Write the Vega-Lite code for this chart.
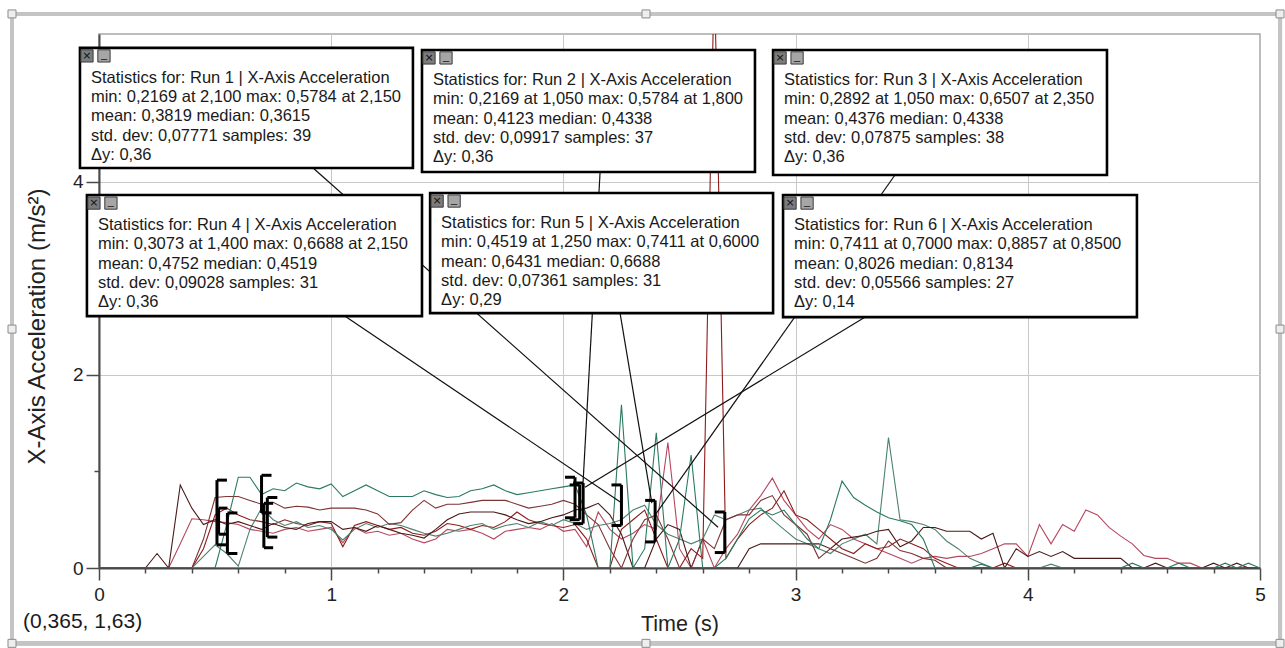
{
  "$schema": "https://vega.github.io/schema/vega-lite/v6.json",
  "width": 1161,
  "height": 534,
  "autosize": {"type": "none"},
  "padding": {"left": 99, "top": 34, "right": 25, "bottom": 80},
  "background": "white",
  "config": {
    "font": "Liberation Sans",
    "view": {"stroke": "#a8a8a8", "strokeWidth": 1.5}
  },
  "datasets": {
    "runs": [
      {"run":"Run 1","t":0,"a":0},{"run":"Run 1","t":0.3,"a":0},{"run":"Run 1","t":0.35,"a":0.25},{"run":"Run 1","t":0.4,"a":0.51},{"run":"Run 1","t":0.45,"a":0.5},{"run":"Run 1","t":0.5,"a":0.48},{"run":"Run 1","t":0.55,"a":0.47},{"run":"Run 1","t":0.6,"a":0.45},{"run":"Run 1","t":0.65,"a":0.4},{"run":"Run 1","t":0.7,"a":0.38},{"run":"Run 1","t":0.75,"a":0.36},{"run":"Run 1","t":0.8,"a":0.4},{"run":"Run 1","t":0.85,"a":0.42},{"run":"Run 1","t":0.9,"a":0.38},{"run":"Run 1","t":0.95,"a":0.4},{"run":"Run 1","t":1.0,"a":0.42},{"run":"Run 1","t":1.05,"a":0.26},{"run":"Run 1","t":1.1,"a":0.42},{"run":"Run 1","t":1.15,"a":0.36},{"run":"Run 1","t":1.2,"a":0.38},{"run":"Run 1","t":1.25,"a":0.34},{"run":"Run 1","t":1.3,"a":0.36},{"run":"Run 1","t":1.35,"a":0.3},{"run":"Run 1","t":1.4,"a":0.26},{"run":"Run 1","t":1.45,"a":0.3},{"run":"Run 1","t":1.5,"a":0.4},{"run":"Run 1","t":1.55,"a":0.38},{"run":"Run 1","t":1.6,"a":0.4},{"run":"Run 1","t":1.65,"a":0.36},{"run":"Run 1","t":1.7,"a":0.3},{"run":"Run 1","t":1.75,"a":0.38},{"run":"Run 1","t":1.8,"a":0.4},{"run":"Run 1","t":1.85,"a":0.42},{"run":"Run 1","t":1.9,"a":0.4},{"run":"Run 1","t":1.95,"a":0.46},{"run":"Run 1","t":2.0,"a":0.38},{"run":"Run 1","t":2.05,"a":0.4},{"run":"Run 1","t":2.1,"a":0.22},{"run":"Run 1","t":2.15,"a":0.58},{"run":"Run 1","t":2.2,"a":0.4},{"run":"Run 1","t":2.25,"a":0.3},{"run":"Run 1","t":2.3,"a":0.36},{"run":"Run 1","t":2.35,"a":0.45},{"run":"Run 1","t":2.4,"a":0.4},{"run":"Run 1","t":2.45,"a":1.3},{"run":"Run 1","t":2.5,"a":0.2},{"run":"Run 1","t":2.55,"a":0},{"run":"Run 1","t":2.6,"a":0.3},{"run":"Run 1","t":2.65,"a":0},{"run":"Run 1","t":2.7,"a":0.2},{"run":"Run 1","t":2.75,"a":0.35},{"run":"Run 1","t":2.8,"a":0.6},{"run":"Run 1","t":2.85,"a":0.75},{"run":"Run 1","t":2.9,"a":0.93},{"run":"Run 1","t":2.95,"a":0.7},{"run":"Run 1","t":3.0,"a":0.55},{"run":"Run 1","t":3.05,"a":0.4},{"run":"Run 1","t":3.1,"a":0.3},{"run":"Run 1","t":3.15,"a":0.45},{"run":"Run 1","t":3.2,"a":0.4},{"run":"Run 1","t":3.25,"a":0.3},{"run":"Run 1","t":3.3,"a":0.25},{"run":"Run 1","t":3.35,"a":0.2},{"run":"Run 1","t":3.4,"a":0.15},{"run":"Run 1","t":3.45,"a":0.1},{"run":"Run 1","t":3.5,"a":0.05},{"run":"Run 1","t":3.55,"a":0.1},{"run":"Run 1","t":3.6,"a":0.12},{"run":"Run 1","t":3.65,"a":0.1},{"run":"Run 1","t":3.7,"a":0.12},{"run":"Run 1","t":3.75,"a":0.12},{"run":"Run 1","t":3.8,"a":0.15},{"run":"Run 1","t":3.85,"a":0.2},{"run":"Run 1","t":3.9,"a":0.25},{"run":"Run 1","t":3.95,"a":0.25},{"run":"Run 1","t":4.0,"a":0.12},{"run":"Run 1","t":4.05,"a":0.45},{"run":"Run 1","t":4.1,"a":0.25},{"run":"Run 1","t":4.15,"a":0.45},{"run":"Run 1","t":4.2,"a":0.38},{"run":"Run 1","t":4.25,"a":0.6},{"run":"Run 1","t":4.3,"a":0.55},{"run":"Run 1","t":4.35,"a":0.42},{"run":"Run 1","t":4.4,"a":0.33},{"run":"Run 1","t":4.45,"a":0.25},{"run":"Run 1","t":4.5,"a":0.13},{"run":"Run 1","t":4.55,"a":0.1},{"run":"Run 1","t":4.6,"a":0.1},{"run":"Run 1","t":4.65,"a":0.05},{"run":"Run 1","t":4.7,"a":0.05},{"run":"Run 1","t":4.75,"a":0},{"run":"Run 1","t":5,"a":0},

      {"run":"Run 2","t":0,"a":0},{"run":"Run 2","t":0.4,"a":0},{"run":"Run 2","t":0.45,"a":0.2},{"run":"Run 2","t":0.5,"a":0.55},{"run":"Run 2","t":0.55,"a":0.62},{"run":"Run 2","t":0.6,"a":0.55},{"run":"Run 2","t":0.65,"a":0.5},{"run":"Run 2","t":0.7,"a":0.48},{"run":"Run 2","t":0.75,"a":0.45},{"run":"Run 2","t":0.8,"a":0.5},{"run":"Run 2","t":0.85,"a":0.46},{"run":"Run 2","t":0.9,"a":0.44},{"run":"Run 2","t":0.95,"a":0.48},{"run":"Run 2","t":1.0,"a":0.46},{"run":"Run 2","t":1.05,"a":0.22},{"run":"Run 2","t":1.1,"a":0.44},{"run":"Run 2","t":1.15,"a":0.48},{"run":"Run 2","t":1.2,"a":0.44},{"run":"Run 2","t":1.25,"a":0.4},{"run":"Run 2","t":1.3,"a":0.42},{"run":"Run 2","t":1.35,"a":0.36},{"run":"Run 2","t":1.4,"a":0.34},{"run":"Run 2","t":1.45,"a":0.38},{"run":"Run 2","t":1.5,"a":0.46},{"run":"Run 2","t":1.55,"a":0.44},{"run":"Run 2","t":1.6,"a":0.4},{"run":"Run 2","t":1.65,"a":0.44},{"run":"Run 2","t":1.7,"a":0.42},{"run":"Run 2","t":1.75,"a":0.48},{"run":"Run 2","t":1.8,"a":0.58},{"run":"Run 2","t":1.85,"a":0.5},{"run":"Run 2","t":1.9,"a":0.46},{"run":"Run 2","t":1.95,"a":0.44},{"run":"Run 2","t":2.0,"a":0.42},{"run":"Run 2","t":2.05,"a":0.45},{"run":"Run 2","t":2.1,"a":0.3},{"run":"Run 2","t":2.15,"a":0},{"run":"Run 2","t":2.2,"a":0},{"run":"Run 2","t":2.25,"a":0.4},{"run":"Run 2","t":2.3,"a":0.5},{"run":"Run 2","t":2.35,"a":0.6},{"run":"Run 2","t":2.4,"a":0.3},{"run":"Run 2","t":2.45,"a":0},{"run":"Run 2","t":2.5,"a":0},{"run":"Run 2","t":2.55,"a":0.2},{"run":"Run 2","t":2.6,"a":0.1},{"run":"Run 2","t":2.65,"a":6.2},{"run":"Run 2","t":2.7,"a":0.1},{"run":"Run 2","t":2.75,"a":0.3},{"run":"Run 2","t":2.8,"a":0.45},{"run":"Run 2","t":2.85,"a":0.55},{"run":"Run 2","t":2.9,"a":0.62},{"run":"Run 2","t":2.95,"a":0.8},{"run":"Run 2","t":3.0,"a":0.55},{"run":"Run 2","t":3.05,"a":0.5},{"run":"Run 2","t":3.1,"a":0.4},{"run":"Run 2","t":3.15,"a":0.3},{"run":"Run 2","t":3.2,"a":0.2},{"run":"Run 2","t":3.25,"a":0.15},{"run":"Run 2","t":3.3,"a":0.25},{"run":"Run 2","t":3.35,"a":0.2},{"run":"Run 2","t":3.4,"a":0.22},{"run":"Run 2","t":3.45,"a":0.3},{"run":"Run 2","t":3.5,"a":0.25},{"run":"Run 2","t":3.55,"a":0.2},{"run":"Run 2","t":3.6,"a":0.1},{"run":"Run 2","t":3.65,"a":0.05},{"run":"Run 2","t":3.7,"a":0},{"run":"Run 2","t":3.85,"a":0},{"run":"Run 2","t":3.9,"a":0.05},{"run":"Run 2","t":3.95,"a":0},{"run":"Run 2","t":5,"a":0},

      {"run":"Run 3","t":0,"a":0},{"run":"Run 3","t":0.4,"a":0},{"run":"Run 3","t":0.45,"a":0.12},{"run":"Run 3","t":0.5,"a":0.24},{"run":"Run 3","t":0.55,"a":0.15},{"run":"Run 3","t":0.6,"a":0.02},{"run":"Run 3","t":0.65,"a":0.4},{"run":"Run 3","t":0.7,"a":0.62},{"run":"Run 3","t":0.75,"a":0.5},{"run":"Run 3","t":0.8,"a":0.44},{"run":"Run 3","t":0.85,"a":0.48},{"run":"Run 3","t":0.9,"a":0.42},{"run":"Run 3","t":0.95,"a":0.44},{"run":"Run 3","t":1.0,"a":0.4},{"run":"Run 3","t":1.05,"a":0.29},{"run":"Run 3","t":1.1,"a":0.4},{"run":"Run 3","t":1.15,"a":0.46},{"run":"Run 3","t":1.2,"a":0.42},{"run":"Run 3","t":1.25,"a":0.46},{"run":"Run 3","t":1.3,"a":0.44},{"run":"Run 3","t":1.35,"a":0.4},{"run":"Run 3","t":1.4,"a":0.36},{"run":"Run 3","t":1.45,"a":0.33},{"run":"Run 3","t":1.5,"a":0.36},{"run":"Run 3","t":1.55,"a":0.4},{"run":"Run 3","t":1.6,"a":0.44},{"run":"Run 3","t":1.65,"a":0.46},{"run":"Run 3","t":1.7,"a":0.4},{"run":"Run 3","t":1.75,"a":0.44},{"run":"Run 3","t":1.8,"a":0.46},{"run":"Run 3","t":1.85,"a":0.42},{"run":"Run 3","t":1.9,"a":0.48},{"run":"Run 3","t":1.95,"a":0.44},{"run":"Run 3","t":2.0,"a":0.5},{"run":"Run 3","t":2.05,"a":0.46},{"run":"Run 3","t":2.1,"a":0.4},{"run":"Run 3","t":2.15,"a":0.44},{"run":"Run 3","t":2.2,"a":0.46},{"run":"Run 3","t":2.25,"a":0.5},{"run":"Run 3","t":2.3,"a":0.6},{"run":"Run 3","t":2.35,"a":0.65},{"run":"Run 3","t":2.4,"a":0.45},{"run":"Run 3","t":2.45,"a":0.35},{"run":"Run 3","t":2.5,"a":0.3},{"run":"Run 3","t":2.55,"a":0.25},{"run":"Run 3","t":2.6,"a":0.3},{"run":"Run 3","t":2.65,"a":0.55},{"run":"Run 3","t":2.7,"a":0.5},{"run":"Run 3","t":2.75,"a":0.55},{"run":"Run 3","t":2.8,"a":0.6},{"run":"Run 3","t":2.85,"a":0.62},{"run":"Run 3","t":2.9,"a":0.5},{"run":"Run 3","t":2.95,"a":0.4},{"run":"Run 3","t":3.0,"a":0.3},{"run":"Run 3","t":3.05,"a":0.25},{"run":"Run 3","t":3.1,"a":0.2},{"run":"Run 3","t":3.15,"a":0.15},{"run":"Run 3","t":3.2,"a":0.25},{"run":"Run 3","t":3.25,"a":0.3},{"run":"Run 3","t":3.3,"a":0.35},{"run":"Run 3","t":3.35,"a":0.25},{"run":"Run 3","t":3.4,"a":1.35},{"run":"Run 3","t":3.45,"a":0.5},{"run":"Run 3","t":3.5,"a":0.48},{"run":"Run 3","t":3.55,"a":0.45},{"run":"Run 3","t":3.6,"a":0.4},{"run":"Run 3","t":3.65,"a":0.28},{"run":"Run 3","t":3.7,"a":0.2},{"run":"Run 3","t":3.75,"a":0.1},{"run":"Run 3","t":3.8,"a":0.05},{"run":"Run 3","t":3.85,"a":0},{"run":"Run 3","t":4.05,"a":0},{"run":"Run 3","t":4.1,"a":0.04},{"run":"Run 3","t":4.15,"a":0},{"run":"Run 3","t":5,"a":0},

      {"run":"Run 4","t":0,"a":0},{"run":"Run 4","t":0.2,"a":0},{"run":"Run 4","t":0.25,"a":0.15},{"run":"Run 4","t":0.3,"a":0},{"run":"Run 4","t":0.35,"a":0.86},{"run":"Run 4","t":0.4,"a":0.62},{"run":"Run 4","t":0.45,"a":0.45},{"run":"Run 4","t":0.5,"a":0.5},{"run":"Run 4","t":0.55,"a":0.45},{"run":"Run 4","t":0.6,"a":0.48},{"run":"Run 4","t":0.65,"a":0.44},{"run":"Run 4","t":0.7,"a":0.4},{"run":"Run 4","t":0.75,"a":0.46},{"run":"Run 4","t":0.8,"a":0.42},{"run":"Run 4","t":0.85,"a":0.4},{"run":"Run 4","t":0.9,"a":0.46},{"run":"Run 4","t":0.95,"a":0.48},{"run":"Run 4","t":1.0,"a":0.48},{"run":"Run 4","t":1.05,"a":0.4},{"run":"Run 4","t":1.1,"a":0.42},{"run":"Run 4","t":1.15,"a":0.38},{"run":"Run 4","t":1.2,"a":0.44},{"run":"Run 4","t":1.25,"a":0.4},{"run":"Run 4","t":1.3,"a":0.36},{"run":"Run 4","t":1.35,"a":0.34},{"run":"Run 4","t":1.4,"a":0.31},{"run":"Run 4","t":1.45,"a":0.4},{"run":"Run 4","t":1.5,"a":0.5},{"run":"Run 4","t":1.55,"a":0.56},{"run":"Run 4","t":1.6,"a":0.58},{"run":"Run 4","t":1.65,"a":0.58},{"run":"Run 4","t":1.7,"a":0.58},{"run":"Run 4","t":1.75,"a":0.55},{"run":"Run 4","t":1.8,"a":0.5},{"run":"Run 4","t":1.85,"a":0.46},{"run":"Run 4","t":1.9,"a":0.48},{"run":"Run 4","t":1.95,"a":0.52},{"run":"Run 4","t":2.0,"a":0.55},{"run":"Run 4","t":2.05,"a":0.6},{"run":"Run 4","t":2.1,"a":0.62},{"run":"Run 4","t":2.15,"a":0.67},{"run":"Run 4","t":2.2,"a":0.55},{"run":"Run 4","t":2.25,"a":0.35},{"run":"Run 4","t":2.3,"a":0},{"run":"Run 4","t":2.35,"a":0},{"run":"Run 4","t":2.4,"a":0.3},{"run":"Run 4","t":2.45,"a":0.45},{"run":"Run 4","t":2.5,"a":0.4},{"run":"Run 4","t":2.55,"a":0},{"run":"Run 4","t":2.75,"a":0},{"run":"Run 4","t":2.8,"a":0.2},{"run":"Run 4","t":2.85,"a":0.25},{"run":"Run 4","t":2.9,"a":0.25},{"run":"Run 4","t":2.95,"a":0.25},{"run":"Run 4","t":3.0,"a":0.25},{"run":"Run 4","t":3.05,"a":0.25},{"run":"Run 4","t":3.1,"a":0.25},{"run":"Run 4","t":3.15,"a":0.2},{"run":"Run 4","t":3.2,"a":0.3},{"run":"Run 4","t":3.25,"a":0.32},{"run":"Run 4","t":3.3,"a":0.34},{"run":"Run 4","t":3.35,"a":0.38},{"run":"Run 4","t":3.4,"a":0.4},{"run":"Run 4","t":3.45,"a":0.22},{"run":"Run 4","t":3.5,"a":0.28},{"run":"Run 4","t":3.55,"a":0.42},{"run":"Run 4","t":3.6,"a":0.42},{"run":"Run 4","t":3.65,"a":0.38},{"run":"Run 4","t":3.7,"a":0.38},{"run":"Run 4","t":3.75,"a":0.38},{"run":"Run 4","t":3.8,"a":0.3},{"run":"Run 4","t":3.85,"a":0.36},{"run":"Run 4","t":3.9,"a":0},{"run":"Run 4","t":3.95,"a":0.2},{"run":"Run 4","t":4.0,"a":0.12},{"run":"Run 4","t":4.05,"a":0.17},{"run":"Run 4","t":4.1,"a":0.12},{"run":"Run 4","t":4.15,"a":0.17},{"run":"Run 4","t":4.2,"a":0.1},{"run":"Run 4","t":4.25,"a":0.1},{"run":"Run 4","t":4.3,"a":0.1},{"run":"Run 4","t":4.35,"a":0.1},{"run":"Run 4","t":4.4,"a":0.1},{"run":"Run 4","t":4.45,"a":0},{"run":"Run 4","t":4.5,"a":0},{"run":"Run 4","t":4.55,"a":0.05},{"run":"Run 4","t":4.6,"a":0},{"run":"Run 4","t":4.75,"a":0},{"run":"Run 4","t":4.8,"a":0.05},{"run":"Run 4","t":4.85,"a":0},{"run":"Run 4","t":4.9,"a":0.05},{"run":"Run 4","t":4.95,"a":0},{"run":"Run 4","t":5,"a":0},

      {"run":"Run 5","t":0,"a":0},{"run":"Run 5","t":0.4,"a":0},{"run":"Run 5","t":0.45,"a":0.3},{"run":"Run 5","t":0.5,"a":0.73},{"run":"Run 5","t":0.55,"a":0.74},{"run":"Run 5","t":0.6,"a":0.741},{"run":"Run 5","t":0.65,"a":0.7},{"run":"Run 5","t":0.7,"a":0.66},{"run":"Run 5","t":0.75,"a":0.68},{"run":"Run 5","t":0.8,"a":0.62},{"run":"Run 5","t":0.85,"a":0.64},{"run":"Run 5","t":0.9,"a":0.63},{"run":"Run 5","t":0.95,"a":0.6},{"run":"Run 5","t":1.0,"a":0.62},{"run":"Run 5","t":1.05,"a":0.62},{"run":"Run 5","t":1.1,"a":0.62},{"run":"Run 5","t":1.15,"a":0.6},{"run":"Run 5","t":1.2,"a":0.56},{"run":"Run 5","t":1.25,"a":0.452},{"run":"Run 5","t":1.3,"a":0.47},{"run":"Run 5","t":1.35,"a":0.6},{"run":"Run 5","t":1.4,"a":0.7},{"run":"Run 5","t":1.45,"a":0.62},{"run":"Run 5","t":1.5,"a":0.66},{"run":"Run 5","t":1.55,"a":0.66},{"run":"Run 5","t":1.6,"a":0.68},{"run":"Run 5","t":1.65,"a":0.7},{"run":"Run 5","t":1.7,"a":0.7},{"run":"Run 5","t":1.75,"a":0.7},{"run":"Run 5","t":1.8,"a":0.66},{"run":"Run 5","t":1.85,"a":0.62},{"run":"Run 5","t":1.9,"a":0.64},{"run":"Run 5","t":1.95,"a":0.66},{"run":"Run 5","t":2.0,"a":0.7},{"run":"Run 5","t":2.05,"a":0.66},{"run":"Run 5","t":2.1,"a":0.55},{"run":"Run 5","t":2.15,"a":0.45},{"run":"Run 5","t":2.2,"a":0.2},{"run":"Run 5","t":2.25,"a":0},{"run":"Run 5","t":2.3,"a":0.3},{"run":"Run 5","t":2.35,"a":0.5},{"run":"Run 5","t":2.4,"a":0.55},{"run":"Run 5","t":2.45,"a":0.3},{"run":"Run 5","t":2.5,"a":0},{"run":"Run 5","t":2.55,"a":0},{"run":"Run 5","t":2.6,"a":0.3},{"run":"Run 5","t":2.65,"a":0.2},{"run":"Run 5","t":2.7,"a":0.5},{"run":"Run 5","t":2.75,"a":0.55},{"run":"Run 5","t":2.8,"a":0.55},{"run":"Run 5","t":2.85,"a":0.7},{"run":"Run 5","t":2.9,"a":0.75},{"run":"Run 5","t":2.95,"a":0.55},{"run":"Run 5","t":3.0,"a":0.45},{"run":"Run 5","t":3.05,"a":0.35},{"run":"Run 5","t":3.1,"a":0.1},{"run":"Run 5","t":3.15,"a":0.2},{"run":"Run 5","t":3.2,"a":0.15},{"run":"Run 5","t":3.25,"a":0.1},{"run":"Run 5","t":3.3,"a":0.05},{"run":"Run 5","t":3.35,"a":0.1},{"run":"Run 5","t":3.4,"a":0.28},{"run":"Run 5","t":3.45,"a":0.18},{"run":"Run 5","t":3.5,"a":0.15},{"run":"Run 5","t":3.55,"a":0.1},{"run":"Run 5","t":3.6,"a":0.08},{"run":"Run 5","t":3.65,"a":0},{"run":"Run 5","t":5,"a":0},

      {"run":"Run 6","t":0,"a":0},{"run":"Run 6","t":0.5,"a":0},{"run":"Run 6","t":0.55,"a":0.45},{"run":"Run 6","t":0.6,"a":0.94},{"run":"Run 6","t":0.65,"a":0.94},{"run":"Run 6","t":0.7,"a":0.76},{"run":"Run 6","t":0.75,"a":0.82},{"run":"Run 6","t":0.8,"a":0.8},{"run":"Run 6","t":0.85,"a":0.88},{"run":"Run 6","t":0.9,"a":0.84},{"run":"Run 6","t":0.95,"a":0.82},{"run":"Run 6","t":1.0,"a":0.87},{"run":"Run 6","t":1.05,"a":0.74},{"run":"Run 6","t":1.1,"a":0.8},{"run":"Run 6","t":1.15,"a":0.86},{"run":"Run 6","t":1.2,"a":0.8},{"run":"Run 6","t":1.25,"a":0.74},{"run":"Run 6","t":1.3,"a":0.74},{"run":"Run 6","t":1.35,"a":0.74},{"run":"Run 6","t":1.4,"a":0.8},{"run":"Run 6","t":1.45,"a":0.76},{"run":"Run 6","t":1.5,"a":0.73},{"run":"Run 6","t":1.55,"a":0.74},{"run":"Run 6","t":1.6,"a":0.8},{"run":"Run 6","t":1.65,"a":0.82},{"run":"Run 6","t":1.7,"a":0.86},{"run":"Run 6","t":1.75,"a":0.8},{"run":"Run 6","t":1.8,"a":0.76},{"run":"Run 6","t":1.85,"a":0.78},{"run":"Run 6","t":1.9,"a":0.8},{"run":"Run 6","t":1.95,"a":0.82},{"run":"Run 6","t":2.0,"a":0.84},{"run":"Run 6","t":2.05,"a":0.86},{"run":"Run 6","t":2.1,"a":0.55},{"run":"Run 6","t":2.15,"a":0},{"run":"Run 6","t":2.2,"a":0},{"run":"Run 6","t":2.25,"a":1.69},{"run":"Run 6","t":2.3,"a":0},{"run":"Run 6","t":2.35,"a":0.2},{"run":"Run 6","t":2.4,"a":1.4},{"run":"Run 6","t":2.45,"a":0},{"run":"Run 6","t":2.5,"a":0.3},{"run":"Run 6","t":2.55,"a":1.17},{"run":"Run 6","t":2.6,"a":0},{"run":"Run 6","t":2.65,"a":0},{"run":"Run 6","t":2.7,"a":0.1},{"run":"Run 6","t":2.75,"a":0.3},{"run":"Run 6","t":2.8,"a":0.51},{"run":"Run 6","t":2.85,"a":0.6},{"run":"Run 6","t":2.9,"a":0.55},{"run":"Run 6","t":2.95,"a":0.6},{"run":"Run 6","t":3.0,"a":0.45},{"run":"Run 6","t":3.05,"a":0.3},{"run":"Run 6","t":3.1,"a":0.2},{"run":"Run 6","t":3.15,"a":0.5},{"run":"Run 6","t":3.2,"a":0.9},{"run":"Run 6","t":3.25,"a":0.73},{"run":"Run 6","t":3.3,"a":0.65},{"run":"Run 6","t":3.35,"a":0.58},{"run":"Run 6","t":3.4,"a":0.52},{"run":"Run 6","t":3.45,"a":0.49},{"run":"Run 6","t":3.5,"a":0.45},{"run":"Run 6","t":3.55,"a":0.3},{"run":"Run 6","t":3.6,"a":0},{"run":"Run 6","t":3.75,"a":0},{"run":"Run 6","t":3.8,"a":0.04},{"run":"Run 6","t":3.85,"a":0},{"run":"Run 6","t":4.4,"a":0},{"run":"Run 6","t":4.45,"a":0.05},{"run":"Run 6","t":4.5,"a":0},{"run":"Run 6","t":4.6,"a":0},{"run":"Run 6","t":4.65,"a":0.05},{"run":"Run 6","t":4.7,"a":0},{"run":"Run 6","t":4.8,"a":0},{"run":"Run 6","t":4.85,"a":0.05},{"run":"Run 6","t":4.9,"a":0},{"run":"Run 6","t":4.95,"a":0.05},{"run":"Run 6","t":5,"a":0}
    ],
    "boxes": [
      {"run":"Run 1","x0":-0.082,"x1":1.352,"y0":4.142,"y1":5.386,"lines":["Statistics for: Run 1 | X-Axis Acceleration","min: 0,2169 at 2,100 max: 0,5784 at 2,150","mean: 0,3819 median: 0,3615","std. dev: 0,07771 samples: 39","Δy: 0,36"]},
      {"run":"Run 2","x0":1.391,"x1":2.825,"y0":4.101,"y1":5.365,"lines":["Statistics for: Run 2 | X-Axis Acceleration","min: 0,2169 at 1,050 max: 0,5784 at 1,800","mean: 0,4123 median: 0,4338","std. dev: 0,09917 samples: 37","Δy: 0,36"]},
      {"run":"Run 3","x0":2.903,"x1":4.341,"y0":4.07,"y1":5.365,"lines":["Statistics for: Run 3 | X-Axis Acceleration","min: 0,2892 at 1,050 max: 0,6507 at 2,350","mean: 0,4376 median: 0,4338","std. dev: 0,07875 samples: 38","Δy: 0,36"]},
      {"run":"Run 4","x0":-0.052,"x1":1.391,"y0":2.608,"y1":3.862,"lines":["Statistics for: Run 4 | X-Axis Acceleration","min: 0,3073 at 1,400 max: 0,6688 at 2,150","mean: 0,4752 median: 0,4519","std. dev: 0,09028 samples: 31","Δy: 0,36"]},
      {"run":"Run 5","x0":1.426,"x1":2.903,"y0":2.639,"y1":3.883,"lines":["Statistics for: Run 5 | X-Axis Acceleration","min: 0,4519 at 1,250 max: 0,7411 at 0,6000","mean: 0,6431 median: 0,6688","std. dev: 0,07361 samples: 31","Δy: 0,29"]},
      {"run":"Run 6","x0":2.946,"x1":4.47,"y0":2.598,"y1":3.862,"lines":["Statistics for: Run 6 | X-Axis Acceleration","min: 0,7411 at 0,7000 max: 0,8857 at 0,8500","mean: 0,8026 median: 0,8134","std. dev: 0,05566 samples: 27","Δy: 0,14"]}
    ],
    "leaders": [
      {"run":"Run 1","x":0.922,"y":4.142,"x2":2.666,"y2":0.422},
      {"run":"Run 2","x":2.158,"y":4.101,"x2":2.084,"y2":0.857},
      {"run":"Run 3","x":3.428,"y":4.07,"x2":2.394,"y2":0.546},
      {"run":"Run 4","x":1.06,"y":2.608,"x2":2.253,"y2":0.671},
      {"run":"Run 5","x":2.244,"y":2.639,"x2":2.381,"y2":0.671},
      {"run":"Run 6","x":3.3,"y":2.6,"x2":2.093,"y2":0.837}
    ],
    "brackets": [
      {"id":"L1","x":0.508,"xe":0.551,"y0":0.24,"y1":0.91},
      {"id":"L2","x":0.515,"xe":0.553,"y0":0.35,"y1":0.62},
      {"id":"L3","x":0.553,"xe":0.596,"y0":0.15,"y1":0.57},
      {"id":"L4","x":0.7,"xe":0.743,"y0":0.57,"y1":0.96},
      {"id":"L5","x":0.71,"xe":0.75,"y0":0.21,"y1":0.67},
      {"id":"L6","x":0.725,"xe":0.768,"y0":0.32,"y1":0.73},
      {"id":"R1","x":2.05,"xe":2.007,"y0":0.52,"y1":0.94},
      {"id":"R2","x":2.085,"xe":2.042,"y0":0.46,"y1":0.88},
      {"id":"R6","x":2.07,"xe":2.027,"y0":0.5,"y1":0.86},
      {"id":"R3","x":2.25,"xe":2.207,"y0":0.44,"y1":0.86},
      {"id":"R4","x":2.395,"xe":2.352,"y0":0.27,"y1":0.7},
      {"id":"R5","x":2.695,"xe":2.652,"y0":0.16,"y1":0.58}
    ],
    "handles": [
      {"hx":-0.3747,"hy":5.7378},{"hx":2.3557,"hy":5.7378},{"hx":5.0862,"hy":5.7378},
      {"hx":-0.3747,"hy":2.4741},{"hx":5.0862,"hy":2.4741},
      {"hx":-0.3747,"hy":-0.7803},{"hx":2.3557,"hy":-0.7803},{"hx":5.0862,"hy":-0.7803}
    ],
    "readout": [{"label":"(0,365, 1,63)","x":-0.327,"y":-0.563}]
  },
  "layer": [
    {
      "data": {"name": "runs"},
      "mark": {"type": "line", "strokeWidth": 1.1, "clip": true, "interpolate": "linear"},
      "encoding": {
        "x": {
          "field": "t", "type": "quantitative",
          "scale": {"domain": [0, 5], "nice": false, "zero": false},
          "axis": {
            "title": "Time (s)",
            "values": [0,0.2,0.4,0.6,0.8,1,1.2,1.4,1.6,1.8,2,2.2,2.4,2.6,2.8,3,3.2,3.4,3.6,3.8,4,4.2,4.4,4.6,4.8,5],
            "labelExpr": "datum.value % 1 == 0 ? '' + datum.value : ''",
            "grid": true,
            "gridColor": {"condition": {"test": "datum.value % 1 == 0 && datum.value > 0 && datum.value < 5", "value": "#c8c8c8"}, "value": "transparent"},
            "gridWidth": 1,
            "tickSize": {"condition": {"test": "datum.value % 1 == 0", "value": 12}, "value": 5},
            "tickColor": "#4a4a4a",
            "tickWidth": 1.5,
            "domainColor": "#4a4a4a",
            "domainWidth": 2,
            "labelFont": "Liberation Sans",
            "labelFontSize": 19,
            "labelColor": "#222222",
            "labelPadding": 5,
            "labelFlush": false,
            "labelOverlap": false,
            "titleFont": "Liberation Sans",
            "titleFontSize": 21.5,
            "titleFontWeight": "normal",
            "titleColor": "#222222",
            "titleY": 62,
            "titleBaseline": "alphabetic"
          }
        },
        "y": {
          "field": "a", "type": "quantitative",
          "scale": {"domain": [0, 5.53], "nice": false, "zero": false},
          "axis": {
            "title": "X-Axis Acceleration (m/s²)",
            "values": [0,1,2,3,4,5],
            "labelExpr": "datum.value % 2 == 0 ? '' + datum.value : ''",
            "grid": true,
            "gridColor": {"condition": {"test": "datum.value == 2 || datum.value == 4", "value": "#c8c8c8"}, "value": "transparent"},
            "gridWidth": 1,
            "tickSize": {"condition": {"test": "datum.value % 2 == 0", "value": 13}, "value": 5},
            "tickColor": "#4a4a4a",
            "tickWidth": 1.5,
            "domainColor": "#4a4a4a",
            "domainWidth": 2,
            "labelFont": "Liberation Sans",
            "labelFontSize": 19,
            "labelColor": "#222222",
            "labelPadding": 3,
            "labelOverlap": false,
            "titleFont": "Liberation Sans",
            "titleFontSize": 24,
            "titleFontWeight": "normal",
            "titleColor": "#222222",
            "titleAngle": -90,
            "titleAlign": "center",
            "titleBaseline": "alphabetic",
            "titleX": -55,
            "titleY": 292
          }
        },
        "color": {
          "field": "run", "type": "nominal",
          "scale": {"domain": ["Run 1","Run 2","Run 3","Run 4","Run 5","Run 6"], "range": ["#b5475f","#8e1b1b","#4e8270","#4a1a1a","#7d3434","#2a7a62"]},
          "legend": null
        },
        "detail": {"field": "run"}
      }
    },
    {
      "data": {"name": "handles"},
      "mark": {"type": "rect", "fill": null, "stroke": "#c4c4c4", "strokeWidth": 4, "clip": false},
      "encoding": {
        "x": {"datum": -0.3747, "type": "quantitative"},
        "x2": {"datum": 5.0862},
        "y": {"datum": -0.7803, "type": "quantitative"},
        "y2": {"datum": 5.7378}
      }
    },
    {
      "data": {"name": "handles"},
      "mark": {"type": "point", "shape": "square", "size": 64, "filled": true, "fill": "#eeeeee", "stroke": "#8c8c8c", "strokeWidth": 1, "opacity": 1, "clip": false},
      "encoding": {
        "x": {"field": "hx", "type": "quantitative"},
        "y": {"field": "hy", "type": "quantitative"}
      }
    },
    {
      "data": {"name": "leaders"},
      "mark": {"type": "rule", "color": "#111111", "strokeWidth": 1.2, "clip": false},
      "encoding": {
        "x": {"field": "x", "type": "quantitative"},
        "y": {"field": "y", "type": "quantitative"},
        "x2": {"field": "x2"},
        "y2": {"field": "y2"}
      }
    },
    {
      "data": {"name": "brackets"},
      "mark": {"type": "rule", "color": "#000000", "strokeWidth": 3, "clip": false},
      "encoding": {
        "x": {"field": "x", "type": "quantitative"},
        "y": {"field": "y0", "type": "quantitative"},
        "y2": {"field": "y1"}
      }
    },
    {
      "data": {"name": "brackets"},
      "mark": {"type": "rule", "color": "#000000", "strokeWidth": 3, "clip": false},
      "encoding": {
        "x": {"field": "x", "type": "quantitative"},
        "x2": {"field": "xe"},
        "y": {"field": "y0", "type": "quantitative"}
      }
    },
    {
      "data": {"name": "brackets"},
      "mark": {"type": "rule", "color": "#000000", "strokeWidth": 3, "clip": false},
      "encoding": {
        "x": {"field": "x", "type": "quantitative"},
        "x2": {"field": "xe"},
        "y": {"field": "y1", "type": "quantitative"}
      }
    },
    {
      "data": {"name": "boxes"},
      "mark": {"type": "rect", "fill": "white", "stroke": "#000000", "strokeWidth": 2.6, "clip": false},
      "encoding": {
        "x": {"field": "x0", "type": "quantitative"},
        "x2": {"field": "x1"},
        "y": {"field": "y0", "type": "quantitative"},
        "y2": {"field": "y1"}
      }
    },
    {
      "data": {"name": "boxes"},
      "mark": {"type": "point", "shape": "square", "size": 150, "filled": true, "fill": "#7c7c7c", "stroke": "#3a3a3a", "strokeWidth": 1, "opacity": 1, "xOffset": 7, "yOffset": 8, "clip": false},
      "encoding": {
        "x": {"field": "x0", "type": "quantitative"},
        "y": {"field": "y1", "type": "quantitative"}
      }
    },
    {
      "data": {"name": "boxes"},
      "mark": {"type": "point", "shape": "square", "size": 150, "filled": true, "fill": "#a6a6a6", "stroke": "#3a3a3a", "strokeWidth": 1, "opacity": 1, "xOffset": 24, "yOffset": 8, "clip": false},
      "encoding": {
        "x": {"field": "x0", "type": "quantitative"},
        "y": {"field": "y1", "type": "quantitative"}
      }
    },
    {
      "data": {"name": "boxes"},
      "mark": {"type": "text", "text": "×", "font": "DejaVu Sans", "fontSize": 11, "color": "#111111", "align": "center", "baseline": "middle", "dx": 7, "dy": 8, "clip": false},
      "encoding": {
        "x": {"field": "x0", "type": "quantitative"},
        "y": {"field": "y1", "type": "quantitative"}
      }
    },
    {
      "data": {"name": "boxes"},
      "mark": {"type": "text", "text": "_", "font": "Liberation Sans", "fontSize": 11, "color": "#111111", "align": "center", "baseline": "middle", "dx": 24, "dy": 7, "clip": false},
      "encoding": {
        "x": {"field": "x0", "type": "quantitative"},
        "y": {"field": "y1", "type": "quantitative"}
      }
    },
    {
      "data": {"name": "boxes"},
      "mark": {"type": "text", "font": "Liberation Sans", "fontSize": 16.5, "color": "#1a1a1a", "align": "left", "baseline": "alphabetic", "lineHeight": 19.3, "dx": 11, "dy": 35, "clip": false},
      "encoding": {
        "x": {"field": "x0", "type": "quantitative"},
        "y": {"field": "y1", "type": "quantitative"},
        "text": {"field": "lines"}
      }
    },
    {
      "data": {"name": "readout"},
      "mark": {"type": "text", "font": "Liberation Sans", "fontSize": 21, "color": "#1a1a1a", "align": "left", "baseline": "middle", "clip": false},
      "encoding": {
        "x": {"field": "x", "type": "quantitative"},
        "y": {"field": "y", "type": "quantitative"},
        "text": {"field": "label"}
      }
    }
  ]
}
